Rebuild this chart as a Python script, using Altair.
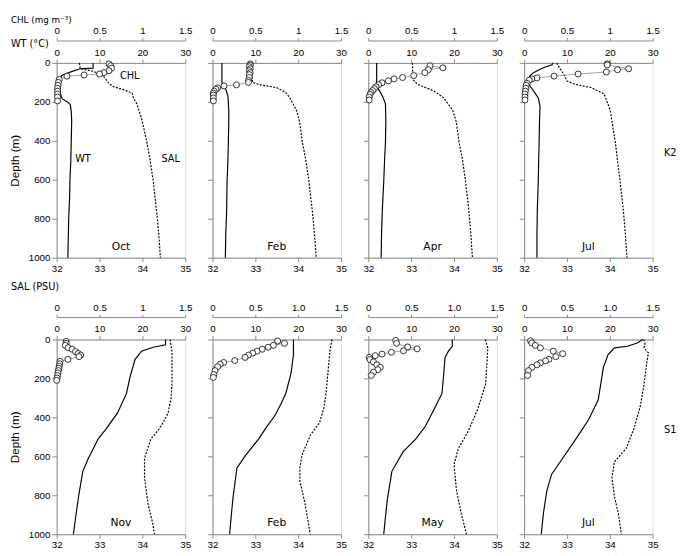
import altair as alt
import pandas as pd

FONT = "DejaVu Sans"

# ---------------- data: (depth m, value) ----------------
K2_OCT_WT = [(0, 8.5), (27, 8.5), (30, 5.5), (42, 3.8), (52, 2.6), (65, 1.2), (77, 0.8), (100, 0.6), (130, 0.7),
             (160, 0.9), (185, 1.3), (200, 2.5), (215, 3.2), (250, 3.4), (300, 3.5), (400, 3.4), (500, 3.3),
             (600, 3.1), (700, 3.0), (800, 2.8), (900, 2.7), (1000, 2.6)]
K2_OCT_SAL = [(0, 32.53), (30, 32.55), (40, 32.8), (55, 33.0), (70, 33.1), (100, 33.2), (120, 33.3), (140, 33.6),
              (155, 33.76), (185, 33.8), (210, 33.87), (285, 33.98), (400, 34.1), (500, 34.18), (600, 34.25),
              (700, 34.3), (800, 34.35), (900, 34.39), (1000, 34.42)]
K2_OCT_CHL = [(5, 0.61), (15, 0.63), (27, 0.64), (40, 0.61), (50, 0.55), (57, 0.5), (62, 0.32), (68, 0.12),
              (85, 0.03), (100, 0.02), (115, 0.015), (130, 0.01), (145, 0.01), (160, 0.01), (175, 0.01), (195, 0.01)]

K2_FEB_WT = [(0, 2.2), (100, 2.2), (115, 2.5), (135, 3.1), (170, 3.6), (243, 3.8), (300, 3.8), (410, 3.7),
             (500, 3.6), (610, 3.4), (760, 3.3), (880, 3.1), (1000, 3.0)]
K2_FEB_SAL = [(0, 32.92), (100, 32.93), (113, 33.13), (127, 33.5), (150, 33.7), (177, 33.8), (243, 33.96),
              (300, 34.03), (410, 34.1), (500, 34.18), (610, 34.25), (760, 34.33), (880, 34.38), (1000, 34.42)]
K2_FEB_CHL = [(5, 0.44), (12, 0.44), (20, 0.43), (30, 0.44), (40, 0.43), (50, 0.44), (60, 0.43), (75, 0.43),
              (90, 0.42), (100, 0.42), (113, 0.28), (118, 0.135), (128, 0.06), (135, 0.04), (145, 0.02),
              (155, 0.01), (165, 0.01), (180, 0.01), (195, 0.01)]

K2_APR_WT = [(0, 1.95), (120, 1.95), (150, 2.8), (180, 3.5), (210, 4.0), (300, 4.1), (410, 4.0), (500, 3.8),
             (610, 3.6), (743, 3.3), (870, 3.1), (1000, 3.0)]
K2_APR_SAL = [(0, 33.03), (85, 33.04), (110, 33.15), (143, 33.52), (177, 33.75), (243, 33.97), (300, 34.05),
              (410, 34.12), (500, 34.2), (610, 34.27), (743, 34.34), (870, 34.39), (1000, 34.43)]
K2_APR_CHL = [(15, 0.72), (25, 0.87), (35, 0.70), (50, 0.66), (65, 0.53), (75, 0.40), (82, 0.30), (92, 0.235),
              (102, 0.16), (112, 0.12), (122, 0.09), (132, 0.07), (142, 0.05), (152, 0.03), (162, 0.02),
              (175, 0.01), (190, 0.01)]

K2_JUL_WT = [(0, 6.8), (10, 6.5), (25, 4.5), (35, 3.5), (50, 2.2), (65, 1.4), (90, 1.0), (120, 1.4), (150, 2.4),
             (180, 3.3), (220, 3.7), (300, 3.6), (410, 3.5), (500, 3.4), (610, 3.3), (743, 3.1), (870, 3.0),
             (1000, 3.0)]
K2_JUL_SAL = [(0, 32.76), (10, 32.78), (60, 32.93), (93, 33.0), (110, 33.19), (127, 33.57), (160, 33.87),
              (243, 34.01), (410, 34.13), (610, 34.24), (743, 34.31), (870, 34.36), (1000, 34.4)]
K2_JUL_CHL = [(5, 0.97), (10, 0.97), (30, 1.22), (35, 1.09), (47, 0.96), (57, 0.63), (68, 0.35), (77, 0.15),
              (82, 0.09), (88, 0.06), (105, 0.035), (115, 0.025), (130, 0.02), (145, 0.015), (160, 0.01),
              (175, 0.01), (190, 0.01)]

S1_NOV_WT = [(0, 25.4), (27, 25.4), (40, 22.5), (60, 19.8), (102, 18.3), (193, 17.1), (277, 16.3), (377, 14.2),
             (460, 11.5), (510, 9.7), (610, 7.4), (677, 6.1), (793, 5.2), (900, 4.5), (1000, 3.9)]
S1_NOV_SAL = [(0, 34.65), (20, 34.66), (60, 34.69), (227, 34.69), (300, 34.67), (377, 34.6), (420, 34.5),
              (460, 34.39), (510, 34.2), (610, 34.05), (710, 34.05), (843, 34.13), (943, 34.24), (1000, 34.28)]
S1_NOV_CHL = [(10, 0.11), (20, 0.11), (30, 0.10), (42, 0.135), (50, 0.18), (62, 0.22), (72, 0.25), (80, 0.28),
              (88, 0.26), (102, 0.13), (112, 0.04), (125, 0.035), (137, 0.03), (148, 0.025), (160, 0.02),
              (172, 0.015), (185, 0.01), (198, 0.005), (210, 0.0)]

S1_FEB_WT = [(0, 18.9), (77, 18.9), (177, 18.3), (277, 17.1), (330, 16.0), (393, 14.5), (450, 12.6), (510, 10.8),
             (593, 7.8), (660, 5.7), (810, 4.8), (900, 4.4), (1000, 4.0)]
S1_FEB_SAL = [(0, 34.79), (60, 34.74), (277, 34.65), (350, 34.6), (427, 34.5), (493, 34.28), (593, 34.09),
              (660, 34.04), (727, 34.04), (843, 34.16), (1000, 34.28)]
S1_FEB_CHL = [(8, 0.76), (20, 0.84), (30, 0.71), (40, 0.65), (50, 0.58), (60, 0.52), (70, 0.47), (80, 0.42),
              (92, 0.38), (108, 0.26), (118, 0.13), (127, 0.09), (140, 0.06), (160, 0.03), (180, 0.015),
              (195, 0.01)]

S1_MAY_WT = [(0, 19.6), (35, 19.6), (60, 18.7), (93, 17.9), (177, 17.6), (277, 17.2), (343, 15.7), (443, 13.4),
             (510, 11.1), (577, 8.1), (677, 5.5), (827, 4.4), (1000, 3.6)]
S1_MAY_SAL = [(0, 34.74), (10, 34.74), (43, 34.79), (227, 34.74), (360, 34.55), (477, 34.32), (560, 34.1),
              (643, 34.0), (777, 34.06), (893, 34.17), (1000, 34.29)]
S1_MAY_CHL = [(5, 0.32), (20, 0.33), (38, 0.46), (48, 0.57), (58, 0.41), (66, 0.27), (75, 0.16), (83, 0.08),
              (92, 0.01), (103, 0.02), (115, 0.06), (130, 0.10), (143, 0.14), (155, 0.11), (168, 0.06),
              (185, 0.035)]

S1_JUL_WT = [(0, 27.7), (18, 26.4), (35, 24.1), (43, 21.1), (77, 19.6), (143, 18.5), (227, 17.9), (310, 17.3),
             (410, 15.1), (510, 12.1), (610, 9.0), (693, 6.4), (777, 5.3), (893, 4.5), (1000, 4.0)]
S1_JUL_SAL = [(0, 34.79), (18, 34.82), (43, 34.8), (68, 34.9), (127, 34.86), (243, 34.79), (343, 34.71),
              (460, 34.56), (560, 34.38), (627, 34.11), (710, 34.05), (810, 34.11), (893, 34.2), (1000, 34.27)]
S1_JUL_CHL = [(7, 0.075), (18, 0.09), (30, 0.13), (43, 0.19), (60, 0.34), (73, 0.45), (88, 0.37), (102, 0.29),
              (110, 0.25), (120, 0.19), (130, 0.15), (143, 0.09), (160, 0.05), (185, 0.04)]

ROW1_MONTHS = ["Oct", "Feb", "Apr", "Jul"]
ROW2_MONTHS = ["Nov", "Feb", "May", "Jul"]

W, H = 132, 200


def frame(pairs, name):
    return pd.DataFrame(pairs, columns=["depth", name])


def ycode(first):
    return alt.Y("depth:Q", scale=alt.Scale(domain=[0, 1000], reverse=True, nice=False, zero=False),
                 axis=alt.Axis(values=[0, 200, 400, 600, 800, 1000], labels=first, format="d", grid=False,
                               title="Depth (m)" if first else None, tickSize=5, labelPadding=2,
                               titleFontSize=12, titleFontWeight="normal", titleX=-36))


def text(t, x, y, size=10, align="center"):
    return alt.Chart(pd.DataFrame({"t": [t]})).mark_text(
        font=FONT, fontSize=size, align=align, baseline="middle", color="black"
    ).encode(text="t:N", x=alt.value(x), y=alt.value(y))


def panel(wt, sal, chl, month, first, chl_dec, extras):
    y = ycode(first)
    sal_l = alt.Chart(frame(sal, "sal")).mark_line(color="black", strokeWidth=1.2, strokeDash=[2, 1.5]).encode(
        x=alt.X("sal:Q", scale=alt.Scale(domain=[32, 35], nice=False, zero=False),
                axis=alt.Axis(orient="bottom", values=[32, 33, 34, 35], format="d", title=None, grid=False,
                              labelFlush=False, tickSize=4)),
        y=y, order="depth:Q")
    wt_l = alt.Chart(frame(wt, "wt")).mark_line(color="black", strokeWidth=1.2).encode(
        x=alt.X("wt:Q", scale=alt.Scale(domain=[0, 30], nice=False),
                axis=alt.Axis(orient="top", values=[0, 10, 20, 30], format="d", title=None, grid=False,
                              labelFlush=False, tickSize=4, labelPadding=2)),
        y=y, order="depth:Q")
    lab = "datum.value == 0 ? '0' : format(datum.value, '.1f')" if chl_dec else \
        "format(datum.value, '~g')"
    chl_l = alt.Chart(frame(chl, "chl")).mark_line(
        color="#8a8a8a", strokeWidth=0.8,
        point=alt.OverlayMarkDef(filled=True, fill="white", stroke="black", strokeWidth=0.8, size=38)
    ).encode(
        x=alt.X("chl:Q", scale=alt.Scale(domain=[0, 1.5], nice=False),
                axis=alt.Axis(orient="top", values=[0, 0.5, 1, 1.5], labelExpr=lab, title=None, grid=False,
                              labelFlush=False, tickSize=3, offset=23, labelPadding=2)),
        y=y, order="depth:Q")
    layers = [sal_l, wt_l, chl_l, text(month, 66, 189, 11)] + extras
    return alt.layer(*layers).resolve_scale(x="independent").properties(width=W, height=H)


row1 = [
    panel(K2_OCT_WT, K2_OCT_SAL, K2_OCT_CHL, ROW1_MONTHS[0], True, False,
          [text("CHL", 75, 14, 10), text("WT", 27, 99, 10), text("SAL", 117, 99, 10),
           text("CHL (mg m\u207b\u00b3)", -47, -44, 9, "left"), text("WT (\u00b0C)", -47, -19, 10, "left")]),
    panel(K2_FEB_WT, K2_FEB_SAL, K2_FEB_CHL, ROW1_MONTHS[1], False, False, []),
    panel(K2_APR_WT, K2_APR_SAL, K2_APR_CHL, ROW1_MONTHS[2], False, False, []),
    panel(K2_JUL_WT, K2_JUL_SAL, K2_JUL_CHL, ROW1_MONTHS[3], False, False, [text("K2", 150, 93, 10)]),
]
row2 = [
    panel(S1_NOV_WT, S1_NOV_SAL, S1_NOV_CHL, ROW2_MONTHS[0], True, False,
          [text("SAL (PSU)", -47, -54, 10, "left")]),
    panel(S1_FEB_WT, S1_FEB_SAL, S1_FEB_CHL, ROW2_MONTHS[1], False, True, []),
    panel(S1_MAY_WT, S1_MAY_SAL, S1_MAY_CHL, ROW2_MONTHS[2], False, True, []),
    panel(S1_JUL_WT, S1_JUL_SAL, S1_JUL_CHL, ROW2_MONTHS[3], False, True, [text("S1", 150, 93, 10)]),
]

chart = alt.vconcat(
    alt.hconcat(*row1, spacing=28, bounds="flush"),
    alt.hconcat(*row2, spacing=28, bounds="flush"),
    spacing=7,
).properties(padding=0).configure_view(
    stroke="black", strokeWidth=1
).configure_axis(
    domainColor="black", tickColor="black", labelColor="black", titleColor="black",
    labelFont=FONT, titleFont=FONT, labelFontSize=10, grid=False, domainWidth=1, tickWidth=1
).configure(background="white")

chart.save("out.html", embed_options={"renderer": "svg", "actions": False})
